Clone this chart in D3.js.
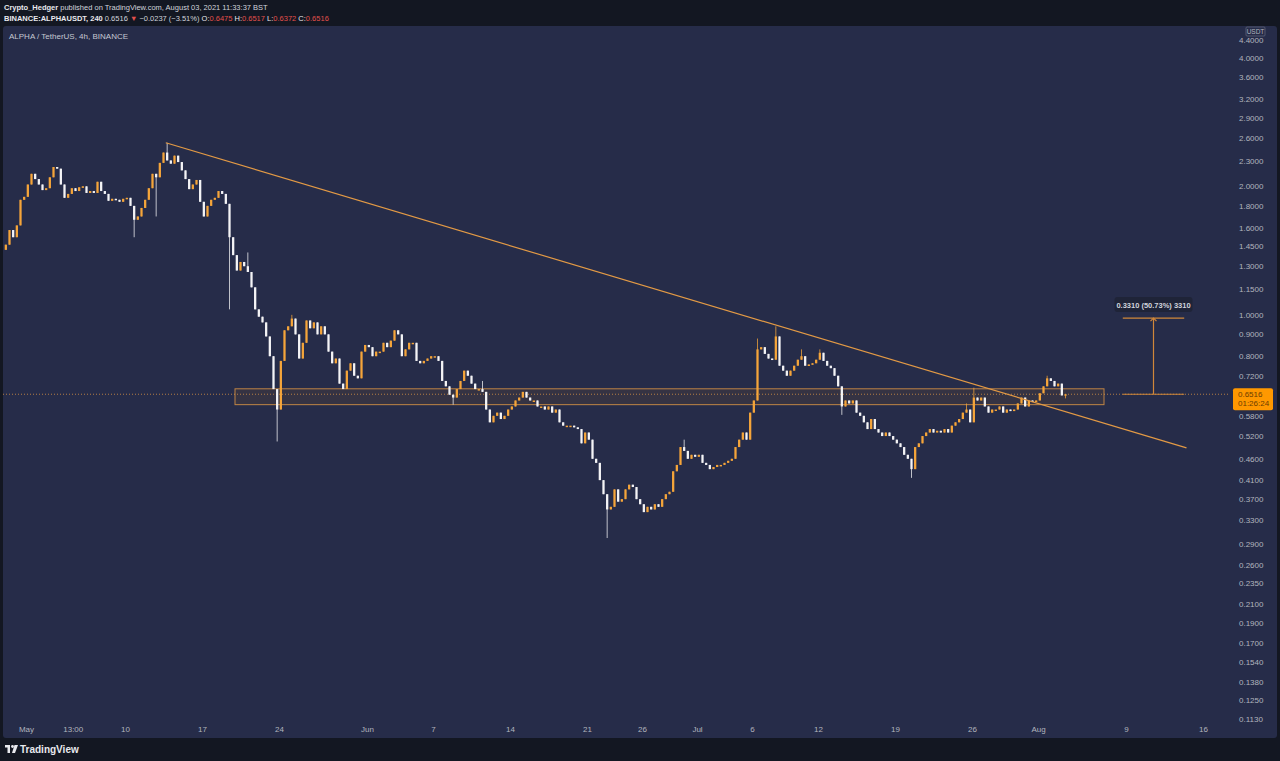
<!DOCTYPE html>
<html>
<head>
<meta charset="utf-8">
<script src="https://cdn.jsdelivr.net/npm/d3@7"></script>
<style>
html, body { margin: 0; padding: 0; background: #131722; overflow: hidden; }
svg { display: block; font-family: "Liberation Sans", Arial, sans-serif; }
</style>
</head>
<body>
<svg id="chart" width="1280" height="761"></svg>
<script>
// 8h candle closes, starting Apr 29 2021 00:00 (3 per day)
const firstOpen = 1.42;
const closes = [
  1.46, 1.58, 1.52,   // Apr 29
  1.62, 1.86, 1.89,   // Apr 30
  2.02, 2.14, 2.08,   // May 1
  2.02, 1.96, 1.98,
  2.10, 2.22, 2.20,
  2.02, 1.88, 1.92,
  1.98, 1.95, 1.99,
  2.00, 1.93, 1.95,
  1.93, 2.05, 1.95,
  1.92, 1.85, 1.87,
  1.86, 1.84, 1.87,
  1.88, 1.80, 1.67,   // May 10
  1.70, 1.78, 1.86,
  1.98, 2.14, 2.10,
  2.27, 2.40, 2.30,   // May 13
  2.26, 2.36, 2.28,
  2.18, 2.08, 1.97,
  2.02, 2.07, 1.84,
  1.70, 1.80, 1.86,
  1.88, 1.95, 1.92,
  1.82, 1.52, 1.38,   // May 19
  1.27, 1.33, 1.30,
  1.26, 1.16, 1.03,
  0.99, 0.96, 0.89,
  0.80, 0.67, 0.60,   // May 23
  0.78, 0.92, 0.94,
  0.98, 0.90, 0.79,
  0.86, 0.97, 0.93,
  0.96, 0.90, 0.94,
  0.90, 0.82, 0.77,
  0.79, 0.69, 0.67,
  0.74, 0.77, 0.72,
  0.71, 0.82, 0.85,   // May 31
  0.84, 0.80, 0.82,   // Jun 1
  0.82, 0.86, 0.84,
  0.87, 0.92, 0.90,
  0.80, 0.83, 0.86,
  0.86, 0.78, 0.77,
  0.78, 0.79, 0.80,
  0.80, 0.78, 0.70,   // Jun 7
  0.68, 0.65, 0.64,
  0.67, 0.70, 0.74,
  0.72, 0.69, 0.67,
  0.67, 0.66, 0.60,
  0.56, 0.58, 0.59,
  0.57, 0.58, 0.60,
  0.61, 0.63, 0.64,   // Jun 14
  0.66, 0.64, 0.63,
  0.63, 0.61, 0.61,
  0.60, 0.61, 0.59,
  0.60, 0.56, 0.55,
  0.55, 0.55, 0.545,
  0.54, 0.50, 0.53,
  0.51, 0.46, 0.45,   // Jun 21
  0.41, 0.38, 0.35,
  0.355, 0.39, 0.365,
  0.37, 0.39, 0.40,
  0.395, 0.37, 0.36,
  0.345, 0.355, 0.35,
  0.36, 0.355, 0.37,
  0.38, 0.385, 0.43,
  0.445, 0.49, 0.48,
  0.46, 0.47, 0.465,  // Jun 30
  0.47, 0.45, 0.445,  // Jul 1
  0.435, 0.44, 0.445,
  0.445, 0.45, 0.455,
  0.46, 0.49, 0.51,
  0.53, 0.51, 0.59,
  0.63, 0.83, 0.84,   // Jul 6
  0.81, 0.79, 0.785,
  0.89, 0.76, 0.74,
  0.72, 0.74, 0.76,
  0.785, 0.80, 0.76,
  0.765, 0.77, 0.785,
  0.815, 0.78, 0.76,  // Jul 12
  0.75, 0.72, 0.68,
  0.61, 0.63, 0.62,
  0.63, 0.59, 0.58,
  0.56, 0.54, 0.57,
  0.54, 0.53, 0.52,
  0.53, 0.52, 0.51,
  0.50, 0.49, 0.47,   // Jul 19
  0.46, 0.435, 0.49,
  0.50, 0.52, 0.53,
  0.54, 0.53, 0.535,
  0.53, 0.54, 0.53,
  0.55, 0.56, 0.57,
  0.59, 0.60, 0.56,
  0.64, 0.63, 0.64,   // Jul 26
  0.61, 0.59, 0.60,
  0.60, 0.61, 0.59,
  0.60, 0.595, 0.60,
  0.62, 0.64, 0.61,
  0.63, 0.625, 0.63,
  0.655, 0.68, 0.71,  // Aug 1
  0.70, 0.68, 0.69,
  0.6475, 0.6516      // Aug 3
];

// notable wicks: [candle index, price]
const wickHighs = [[44, 2.53], [66, 1.40], [78, 1.00], [130, 0.70], [185, 0.51], [205, 0.88],
  [210, 0.94], [217, 0.83], [222, 0.83], [262, 0.62], [264, 0.675], [284, 0.72], [289, 0.6517]];
const wickLows = [[35, 1.52], [41, 1.70], [61, 1.03], [74, 0.505], [122, 0.616], [164, 0.30],
  [228, 0.583], [247, 0.415], [289, 0.6372]];

const yTicks = [4.4, 4.0, 3.6, 3.2, 2.9, 2.6, 2.3, 2.0, 1.8, 1.6, 1.45, 1.3, 1.15, 1.0, 0.9, 0.8,
  0.72, 0.58, 0.52, 0.46, 0.41, 0.37, 0.33, 0.29, 0.26, 0.235, 0.21, 0.19, 0.17, 0.154, 0.138, 0.125, 0.113];

const xTickDates = [Date.UTC(2021,4,1), Date.UTC(2021,4,5,6), Date.UTC(2021,4,10), Date.UTC(2021,4,17),
  Date.UTC(2021,4,24), Date.UTC(2021,5,1), Date.UTC(2021,5,7), Date.UTC(2021,5,14), Date.UTC(2021,5,21),
  Date.UTC(2021,5,26), Date.UTC(2021,6,1), Date.UTC(2021,6,6), Date.UTC(2021,6,12), Date.UTC(2021,6,19),
  Date.UTC(2021,6,26), Date.UTC(2021,7,1), Date.UTC(2021,7,9), Date.UTC(2021,7,16)];
const xTickLabels = ["May", "13:00", "10", "17", "24", "Jun", "7", "14", "21", "26", "Jul", "6", "12",
  "19", "26", "Aug", "9", "16"];

// drawings
const trendLine = [[Date.UTC(2021,4,13,17), 2.53], [Date.UTC(2021,7,14,12), 0.488]];
const zoneTimes = [Date.UTC(2021,4,20), Date.UTC(2021,7,7)];
const zonePrices = [0.671, 0.616];
const measureTimes = [Date.UTC(2021,7,8,17), Date.UTC(2021,7,11,12), Date.UTC(2021,7,14,7)];
const measurePrices = [0.6516, 0.9826];
const measureLabel = "0.3310 (50.73%) 3310";

const lastPrice = 0.6516;
const countdown = "01:26:24";

const H8 = 8 * 3600 * 1000;
const t0 = Date.UTC(2021, 3, 29);

const svg = d3.select("#chart");
const plot = {left: 3, right: 1228, top: 26, bottom: 721};
const axisColor = "#b2b5be";
const upColor = "#f5a53a";
const downColor = "#f4f4f6";
const lineColor = "#e39a45";

// panel
svg.append("rect").attr("x", 3).attr("y", 26).attr("width", 1274).attr("height", 712)
  .attr("rx", 3).attr("fill", "#262c49");

// scales
const x = d3.scaleUtc()
  .domain([new Date(t0), new Date(Date.UTC(2021, 7, 20))])
  .range([4, 4 + 113 * 11]);
const y = d3.scaleLog()
  .domain([0.1118, 4.75])
  .range([plot.bottom, plot.top]);

// candles
const candles = closes.map((c, i) => {
  const o = i ? closes[i - 1] : firstOpen;
  return {t: t0 + i * H8, o, c, h: Math.max(o, c), l: Math.min(o, c)};
});
wickHighs.forEach(([i, p]) => { candles[i].h = p; });
wickLows.forEach(([i, p]) => { candles[i].l = p; });

const step = x(new Date(t0 + H8)) - x(new Date(t0));
const bodyW = step * 0.62;

svg.append("clipPath").attr("id", "plotClip").append("rect")
  .attr("x", plot.left).attr("y", plot.top)
  .attr("width", plot.right - plot.left).attr("height", plot.bottom - plot.top);

const g = svg.append("g").attr("clip-path", "url(#plotClip)");

// zone box
g.append("rect")
  .attr("x", x(new Date(zoneTimes[0])))
  .attr("y", y(zonePrices[0]))
  .attr("width", x(new Date(zoneTimes[1])) - x(new Date(zoneTimes[0])))
  .attr("height", y(zonePrices[1]) - y(zonePrices[0]))
  .attr("fill", "rgba(255,152,0,0.07)")
  .attr("stroke", lineColor).attr("stroke-width", 1).attr("stroke-opacity", 0.8);

// current price dotted line
g.append("line")
  .attr("x1", plot.left).attr("x2", plot.right)
  .attr("y1", y(lastPrice)).attr("y2", y(lastPrice))
  .attr("stroke", lineColor).attr("stroke-width", 1)
  .attr("stroke-dasharray", "1,2").attr("stroke-opacity", 0.75);

const cg = g.append("g");
cg.selectAll("line.wick").data(candles).join("line")
  .attr("class", "wick")
  .attr("x1", d => x(new Date(d.t + H8 / 2))).attr("x2", d => x(new Date(d.t + H8 / 2)))
  .attr("y1", d => y(d.h)).attr("y2", d => y(d.l))
  .attr("stroke", d => d.c >= d.o ? upColor : downColor).attr("stroke-width", 1)
  .attr("stroke-opacity", 0.75);
cg.selectAll("rect.body").data(candles).join("rect")
  .attr("class", "body")
  .attr("x", d => x(new Date(d.t + H8 / 2)) - bodyW / 2)
  .attr("width", bodyW)
  .attr("y", d => y(Math.max(d.o, d.c)))
  .attr("height", d => Math.max(1.5, y(Math.min(d.o, d.c)) - y(Math.max(d.o, d.c))))
  .attr("fill", d => d.c >= d.o ? upColor : downColor);

// trend line
g.append("path")
  .datum(trendLine)
  .attr("d", d3.line().x(d => x(new Date(d[0]))).y(d => y(d[1])))
  .attr("fill", "none").attr("stroke", lineColor).attr("stroke-width", 1.2);

// measure tool
const mx0 = x(new Date(measureTimes[0])), mxc = x(new Date(measureTimes[1])), mx1 = x(new Date(measureTimes[2]));
const my0 = y(measurePrices[0]), my1 = y(measurePrices[1]);
const mg = g.append("g").attr("stroke", "#d0873a").attr("stroke-width", 1.2).attr("fill", "none");
mg.append("line").attr("x1", mx0).attr("x2", mx1).attr("y1", my0).attr("y2", my0);
mg.append("line").attr("x1", mx0).attr("x2", mx1).attr("y1", my1).attr("y2", my1);
mg.append("line").attr("x1", mxc).attr("x2", mxc).attr("y1", my0).attr("y2", my1);
mg.append("path").attr("d", `M${mxc - 3},${my1 + 3}L${mxc},${my1}L${mxc + 3},${my1 + 3}`);
const lbl = g.append("g").attr("transform", `translate(${mxc},${my1 - 13})`);
lbl.append("rect").attr("x", -39).attr("y", -8).attr("width", 78).attr("height", 15).attr("rx", 3)
  .attr("fill", "#1f2438");
lbl.append("text").attr("text-anchor", "middle").attr("y", 3)
  .attr("font-size", 7.5).attr("font-weight", "bold").attr("fill", "#d1d4dc").text(measureLabel);

// y axis
const yAxis = svg.append("g")
  .attr("transform", `translate(1239,0)`)
  .call(d3.axisRight(y).tickValues(yTicks).tickFormat(d3.format(".4f")).tickSize(0));
yAxis.select(".domain").remove();
yAxis.selectAll("text").attr("fill", axisColor).attr("font-size", 8)
  .attr("font-family", "Liberation Sans, Arial, sans-serif").attr("x", 0);

// USDT unit box
svg.append("rect").attr("x", 1246).attr("y", 27).attr("width", 19).attr("height", 9)
  .attr("fill", "#262c49").attr("stroke", "#5d6278").attr("stroke-width", 0.8).attr("rx", 1);
svg.append("text").attr("x", 1255.5).attr("y", 34).attr("text-anchor", "middle")
  .attr("font-size", 6.5).attr("fill", axisColor).text("USDT");

// last price label
const py = y(lastPrice);
const pl = svg.append("g").attr("transform", `translate(1233,${py - 6})`);
pl.append("rect").attr("width", 40).attr("height", 22).attr("rx", 2).attr("fill", "#ff9800");
pl.append("text").attr("x", 5).attr("y", 8.5).attr("font-size", 8).attr("fill", "#6b3d00").text(d3.format(".4f")(lastPrice));
pl.append("text").attr("x", 5).attr("y", 18).attr("font-size", 8).attr("fill", "#6b3d00").text(countdown);

// x axis
const xAxis = svg.append("g")
  .attr("transform", `translate(0,${plot.bottom})`)
  .call(d3.axisBottom(x).tickValues(xTickDates.map(d => new Date(d)))
    .tickFormat((d, i) => xTickLabels[i]).tickSize(0));
xAxis.select(".domain").remove();
xAxis.selectAll("text").attr("fill", axisColor).attr("font-size", 8)
  .attr("font-family", "Liberation Sans, Arial, sans-serif").attr("dy", "0.95em");

// header
const h1 = svg.append("text").attr("x", 4).attr("y", 10).attr("font-size", 7.5).attr("fill", "#d1d4dc");
h1.append("tspan").attr("font-weight", "bold").attr("fill", "#e8e9ee").text("Crypto_Hedger");
h1.append("tspan").text(" published on TradingView.com, August 03, 2021 11:33:37 BST");

const red = "#e2504c";
const h2parts = [
  ["BINANCE:ALPHAUSDT, 240 ", "#e8e9ee", "bold"],
  ["0.6516 ", "#d1d4dc"], ["▼", red], [" −0.0237 (−3.51%) ", "#d1d4dc"],
  ["O:", "#e8e9ee"], ["0.6475", red], [" H:", "#e8e9ee"], ["0.6517", red],
  [" L:", "#e8e9ee"], ["0.6372", red], [" C:", "#e8e9ee"], ["0.6516", red]
];
const h2 = svg.append("text").attr("x", 4).attr("y", 21).attr("font-size", 7.5);
h2parts.forEach(([t, c, w]) => {
  h2.append("tspan").attr("fill", c).attr("font-weight", w || "normal").text(t);
});

svg.append("text").attr("x", 9).attr("y", 39).attr("font-size", 8).attr("fill", "#c5c8d2")
  .text("ALPHA / TetherUS, 4h, BINANCE");

// footer logo
const logo = svg.append("g").attr("transform", "translate(5,745)").attr("fill", "#e8e9ee");
logo.append("rect").attr("x", 0).attr("y", 0).attr("width", 5).attr("height", 2.5);
logo.append("rect").attr("x", 2.5).attr("y", 0).attr("width", 2.5).attr("height", 8);
logo.append("circle").attr("cx", 7.5).attr("cy", 1.5).attr("r", 1.4);
logo.append("path").attr("d", "M9.5,0H13L10,8H7Z");
svg.append("text").attr("x", 20).attr("y", 753).attr("font-size", 10).attr("font-weight", "bold")
  .attr("fill", "#e8e9ee").text("TradingView");
</script>
</body>
</html>
